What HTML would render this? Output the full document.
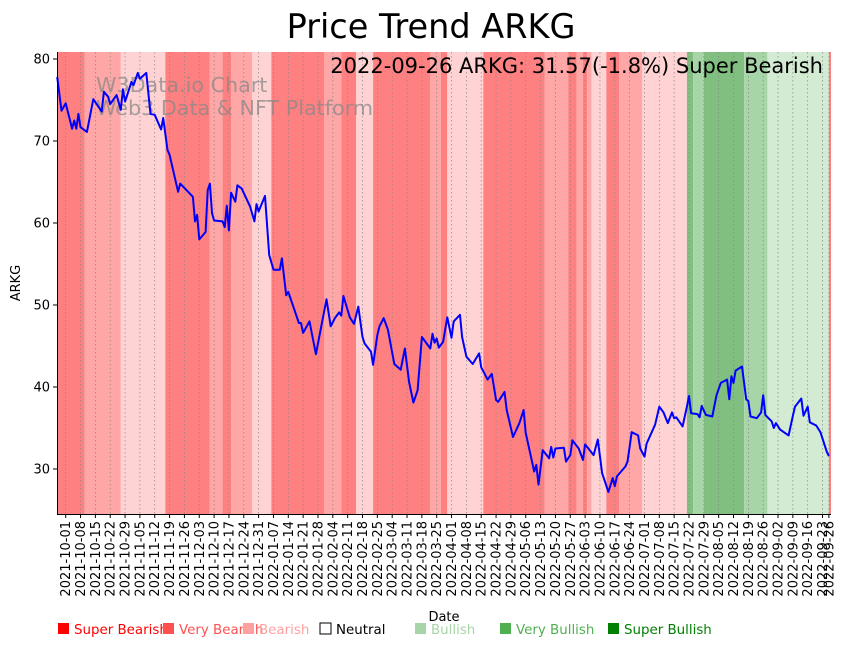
<!DOCTYPE html>
<html><head><meta charset="utf-8"><style>
html,body{margin:0;padding:0;background:#fff;}
svg{display:block;font-family:"DejaVu Sans","Liberation Sans",sans-serif;}
</style></head><body>
<svg id="chart" width="851" height="646" viewBox="0 0 851 646" xmlns="http://www.w3.org/2000/svg">
<text x="431" y="38" font-size="33.5" text-anchor="middle">Price Trend ARKG</text>
<g id="bands"></g>
<g id="grid"></g>
<g id="watermark" fill="#888" fill-opacity="0.75" font-size="20.7">
<text x="96" y="92">W3Data.io Chart</text>
<text x="96" y="115">Web3 Data &amp; NFT Platform</text>
</g>
<path id="line" fill="none" stroke="#0000ff" stroke-width="2" stroke-linejoin="round"/>
<text x="823" y="73" font-size="21" text-anchor="end">2022-09-26 ARKG: 31.57(-1.8%) Super Bearish</text>
<g id="yaxis" font-size="13"></g>
<g id="xaxis" font-size="13"></g>
<line x1="57.5" y1="52" x2="57.5" y2="514.5" stroke="#000" stroke-width="1"/>
<line x1="57" y1="514.5" x2="831" y2="514.5" stroke="#000" stroke-width="1"/>
<text transform="translate(20,283) rotate(-90)" font-size="13" text-anchor="middle">ARKG</text>
<text x="444" y="621" font-size="13" text-anchor="middle">Date</text>
<g id="legend" font-size="13.4"></g>
</svg>
<script>
const startDate = "2021-10-01";
const dayOffsets = [-4,-2,0,3,4,5,6,7,10,13,17,18,20,21,24,26,27,28,31,32,34,35,38,40,42,45,46,48,49,53,54,60,61,62,63,66,67,68,69,70,74,75,76,77,78,80,81,83,87,89,90,91,94,96,98,101,102,104,105,110,111,112,115,118,123,125,127,129,130,131,134,136,138,140,141,144,145,147,148,150,152,155,158,160,162,164,166,168,172,173,174,175,176,178,180,182,183,186,187,189,192,195,196,199,201,203,204,207,208,211,214,216,217,221,222,223,225,228,229,230,231,235,236,238,239,242,244,245,249,251,253,256,258,259,260,264,265,267,270,271,273,274,278,280,282,284,286,287,288,291,293,294,295,298,299,300,302,305,307,309,312,313,314,315,316,319,321,322,323,326,328,329,330,333,334,335,337,341,343,344,347,348,350,351,354,356,359,360];
const prices = [77.8,73.7,74.6,71.5,72.5,71.5,73.3,71.7,71.1,75.1,73.6,76.0,75.4,74.5,75.6,73.8,76.3,74.8,77.2,76.8,78.3,77.6,78.3,73.3,73.2,71.4,72.8,68.9,68.3,63.8,64.8,63.2,60.2,61.0,58.0,58.9,64.0,64.8,61.2,60.3,60.2,59.5,62.1,59.1,63.7,62.6,64.6,64.2,62.0,60.2,62.3,61.4,63.3,56.1,54.3,54.3,55.7,51.2,51.6,47.8,47.8,46.6,48.0,44.0,50.7,47.4,48.4,49.1,48.7,51.1,48.5,47.7,49.8,46.1,45.3,44.3,42.7,46.3,47.4,48.4,47.0,42.8,42.1,44.7,40.6,38.1,39.6,46.1,44.7,46.5,45.4,45.9,44.8,45.5,48.5,46.0,48.0,48.8,46.1,43.7,42.8,44.1,42.4,40.9,41.6,38.4,38.2,39.4,37.2,33.9,35.6,37.2,34.4,29.7,30.5,28.1,32.3,31.3,32.7,31.4,32.5,32.6,30.9,31.7,33.5,32.5,31.1,33.0,31.7,33.6,29.5,27.2,28.9,27.9,29.1,30.3,30.9,34.5,34.1,32.5,31.5,33.1,35.4,37.6,36.9,35.6,36.9,36.2,36.3,35.2,37.6,38.9,36.8,36.7,36.3,37.7,36.6,36.4,39.0,40.5,40.9,38.5,41.3,40.5,42.0,42.5,38.5,38.3,36.4,36.2,36.9,39.0,36.6,35.8,35.0,35.6,34.8,34.1,36.5,37.6,38.6,36.5,37.6,35.7,35.3,34.5,32.1,31.57];
const bandStarts = [-4,9,26,47,68,74,78,88,97,122,130,137,145,172,177,180,197,226,237,241,244,246,248,255,261,272,293,296,301,320,331,360];
const bandEnds =   [9,26,47,68,74,78,88,97,122,130,137,145,172,177,180,197,226,237,241,244,246,248,255,261,272,293,296,301,320,331,360,361];
const bandLevels = [-3,-2,-1,-3,-2,-3,-2,-1,-3,-2,-3,-1,-3,-2,-3,-1,-3,-2,-3,-2,-3,-2,-1,-3,-2,-1,3,2,3,2,1,-3];
const yTicks = [30,40,50,60,70,80];
const legendLabels = ["Super Bearish","Very Bearish","Bearish","Neutral","Bullish","Very Bullish","Super Bullish"];
const legendX = [58,163,243,320,415,500,608];

const NS="http://www.w3.org/2000/svg";
const levelColor={"-3":"#ff8080","-2":"#ffa6a6","-1":"#ffd3d3","1":"#d3ead3","2":"#a8d5a8","3":"#80bf80"};
const legendFill=["#ff0000","#ff5050","#ffa0a0","none","#a8d5a8","#50b050","#008000"];
const legendText=["#ff0000","#ff5050","#ffa0a0","#000","#a8d5a8","#50b050","#008000"];
const PL=57,PR=831,PT=52,PB=514;
function x(d){return 65.7+d*2.12;}
function y(v){return 469-(v-30)*8.2;}
function mk(tag,attrs,parent){const e=document.createElementNS(NS,tag);for(const k in attrs)e.setAttribute(k,attrs[k]);parent.appendChild(e);return e;}
function fmt(d){const t=new Date(startDate+"T00:00:00Z");t.setUTCDate(t.getUTCDate()+d);return t.toISOString().slice(0,10);}

const bands=document.getElementById('bands');
for(let i=0;i<bandLevels.length;i++){
  const x0=Math.max(PL,x(bandStarts[i])),x1=Math.min(PR,x(bandEnds[i]));
  const r=mk('rect',{x:x0,y:PT,width:Math.max(0,x1-x0),height:PB-PT,fill:levelColor[bandLevels[i]]},bands);
  
  
}
const grid=document.getElementById('grid'),xa=document.getElementById('xaxis');
const tickDays=[];for(let d=0;d<=357;d+=7)tickDays.push(d);tickDays.push(360);
tickDays.forEach(d=>{
  const xx=x(d);
  const g=mk('line',{x1:xx,x2:xx,y1:PT,y2:PB,stroke:"#888","stroke-width":0.7,"stroke-dasharray":"1.5,2.5"},grid);
  
  
  const t=mk('line',{x1:xx,x2:xx,y1:PB,y2:PB+4,stroke:"#000"},xa);
  
  
  const lb=mk('text',{transform:`translate(${xx+4.5},${PB+7}) rotate(-90)`,"text-anchor":"end"},xa);
  lb.textContent=fmt(d);
  
  
});
const ya=document.getElementById('yaxis');
yTicks.forEach(v=>{
  const t=mk('line',{x1:PL-4,x2:PL,y1:y(v),y2:y(v),stroke:"#000"},ya);
  
  
  const lb=mk('text',{x:PL-7,y:y(v)+4.5,"text-anchor":"end"},ya);
  lb.textContent=v;
  
  
});
let dstr="";
for(let i=0;i<prices.length;i++){dstr+=(i?"L":"M")+Math.max(PL,x(dayOffsets[i])).toFixed(1)+","+y(prices[i]).toFixed(1);}
document.getElementById('line').setAttribute('d',dstr);
const lg=document.getElementById('legend');
legendLabels.forEach((l,i)=>{
  const r=mk('rect',{x:legendX[i],y:623,width:11,height:11,fill:legendFill[i],stroke:legendFill[i]==="none"?"#000":"none"},lg);
  
  
  const t=mk('text',{x:legendX[i]+16,y:634,fill:legendText[i]},lg);
  t.textContent=l;
  
  
});
</script>
</body></html>
